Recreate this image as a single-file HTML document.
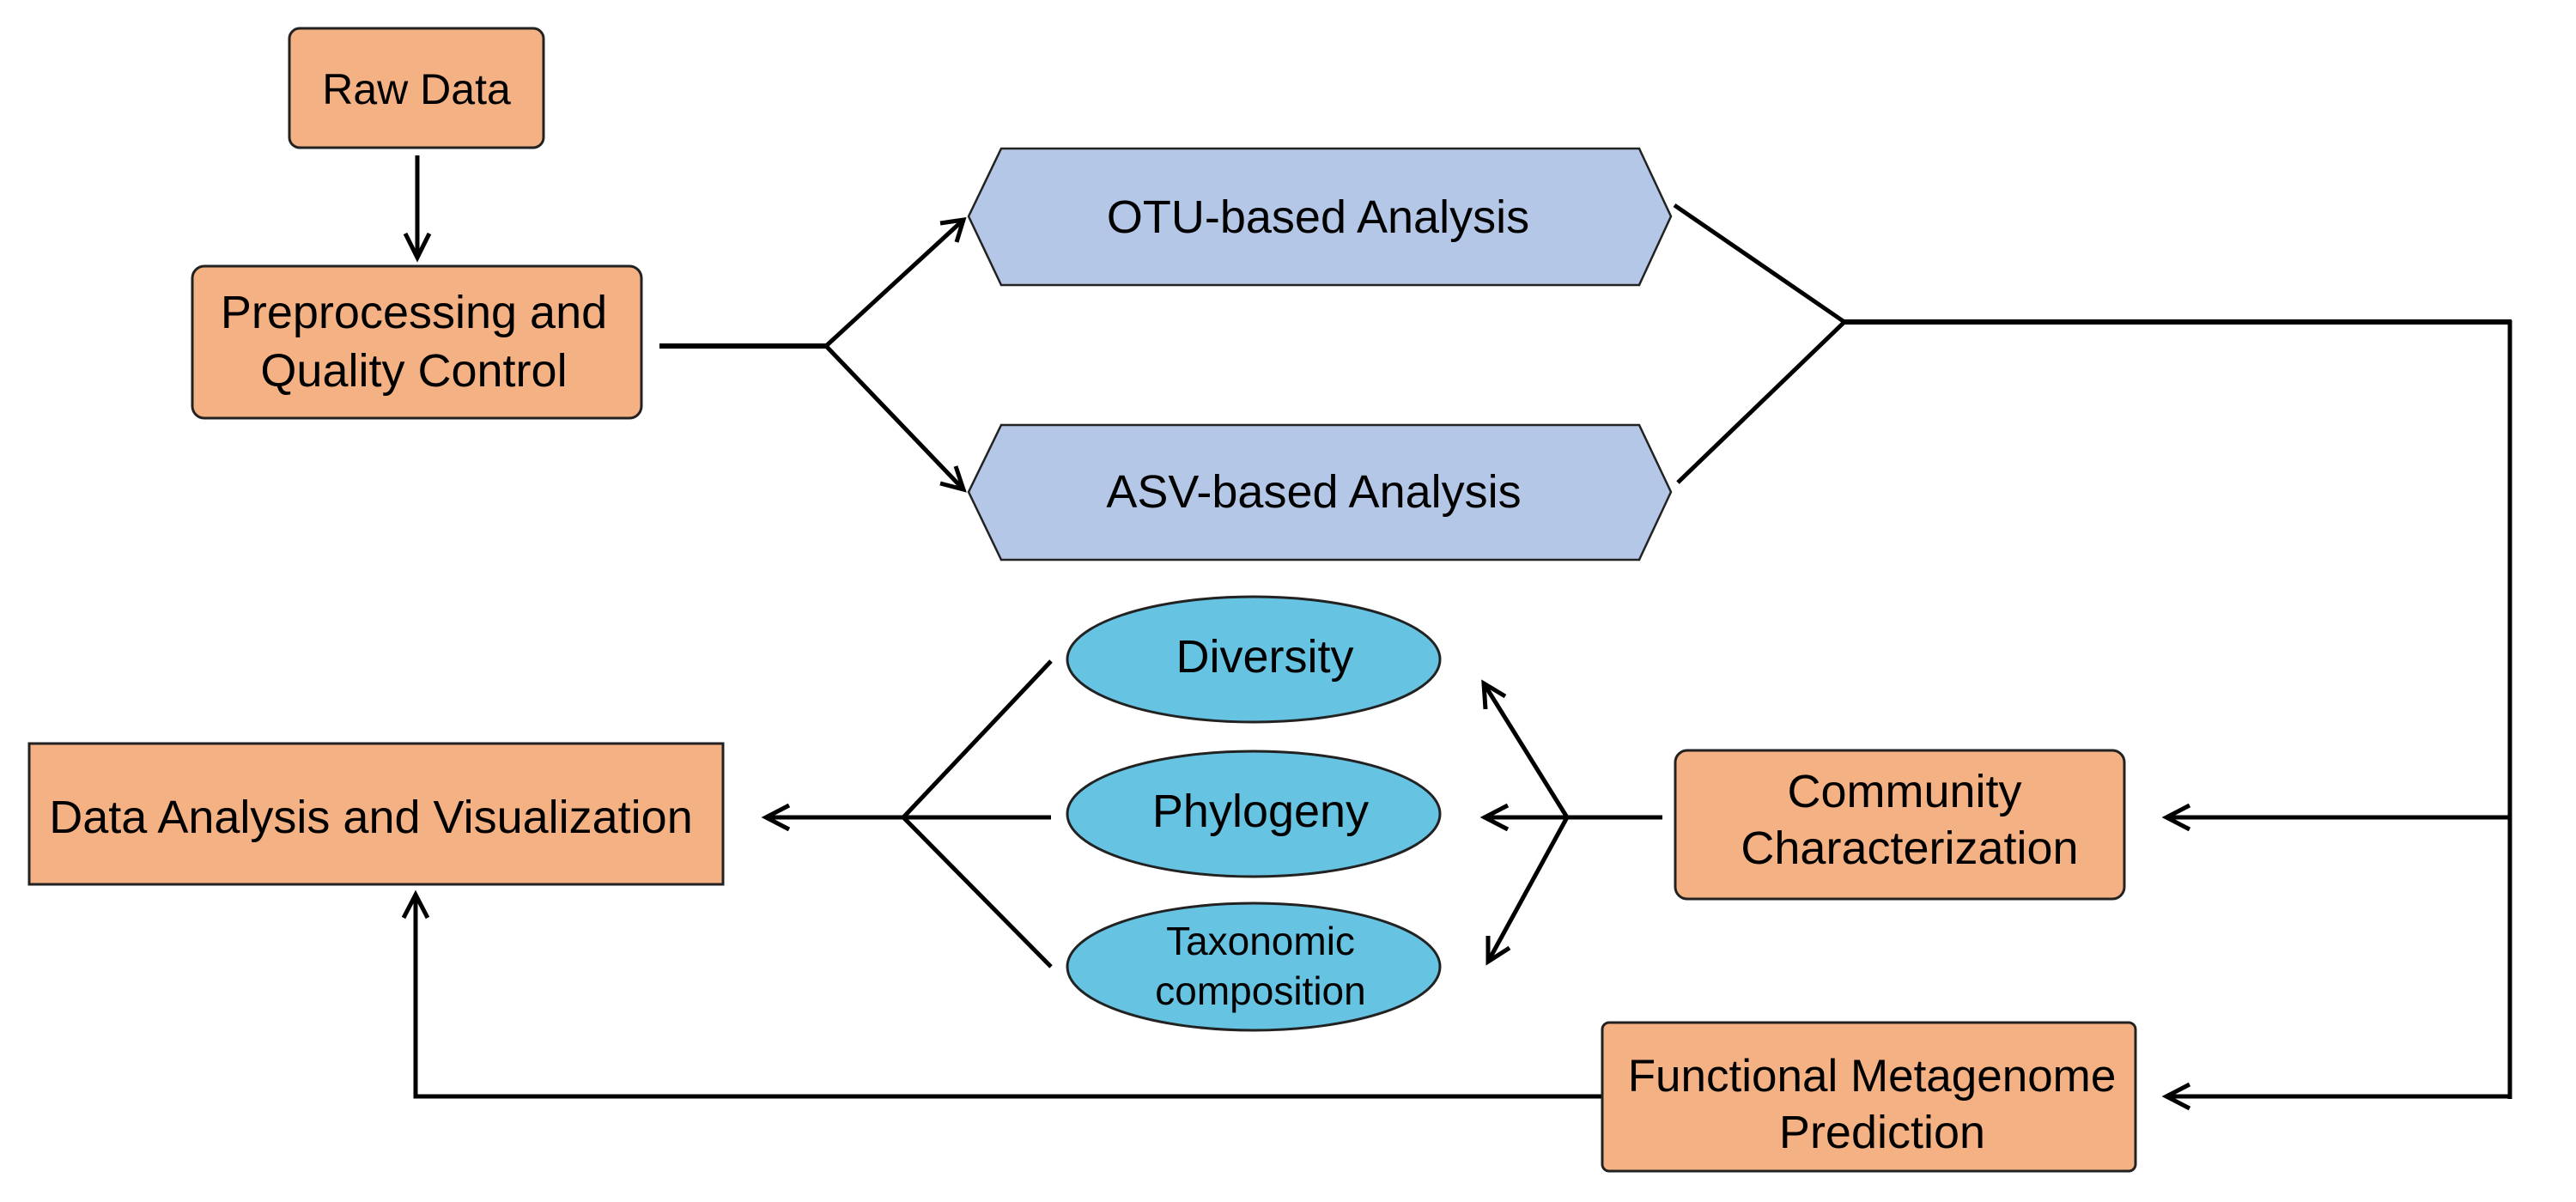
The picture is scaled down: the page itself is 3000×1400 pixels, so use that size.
<!DOCTYPE html>
<html><head><meta charset="utf-8"><style>
html,body{margin:0;padding:0;background:#fff;}
svg{display:block;}
text{font-family:"Liberation Sans",Arial,sans-serif;fill:#000;}
</style></head><body>
<svg width="3000" height="1400" viewBox="0 0 3000 1400" xmlns="http://www.w3.org/2000/svg">
<g stroke="#000" stroke-width="5" fill="none" stroke-linecap="butt" stroke-linejoin="miter">
<line x1="486" y1="181" x2="486" y2="300"/>
<polyline points="472,272 486,300 500,272"/>
<line x1="768" y1="403" x2="962" y2="403" stroke-width="6"/>
<line x1="962" y1="403" x2="1122" y2="256"/>
<line x1="962" y1="403" x2="1122" y2="570"/>
<polyline points="1095,260 1122,256 1114,282"/>
<polyline points="1113,543 1122,570 1095,563"/>
<line x1="1950" y1="239" x2="2148" y2="375"/>
<line x1="1954" y1="562" x2="2148" y2="375"/>
<line x1="2148" y1="375" x2="2925" y2="375" stroke-width="6"/>
<line x1="2923" y1="373" x2="2923" y2="1280"/>
<line x1="2923" y1="952" x2="2523" y2="952"/>
<polyline points="2550,938 2523,952 2550,966"/>
<line x1="2923" y1="1277" x2="2523" y2="1277"/>
<polyline points="2550,1263 2523,1277 2550,1291"/>
<line x1="1936" y1="952" x2="1825" y2="952"/>
<line x1="1825" y1="952" x2="1729" y2="952"/>
<polyline points="1756,938 1729,952 1756,966"/>
<line x1="1825" y1="952" x2="1728" y2="796"/>
<polyline points="1730,826 1728,796 1753,811"/>
<line x1="1825" y1="952" x2="1733" y2="1120"/>
<polyline points="1733,1090 1733,1120 1758,1104"/>
<line x1="1224" y1="770" x2="1052" y2="952"/>
<line x1="1224" y1="952" x2="1052" y2="952"/>
<line x1="1224" y1="1126" x2="1052" y2="952"/>
<line x1="1052" y1="952" x2="892" y2="952"/>
<polyline points="919,938 892,952 919,966"/>
<polyline points="1865,1277 484,1277 484,1042"/>
<polyline points="470,1069 484,1042 498,1069"/>
</g>
<g stroke="#222" stroke-width="3">
<rect x="337" y="33" width="296" height="139" rx="12" fill="#F4B183"/>
<rect x="224" y="310" width="523" height="177" rx="14" fill="#F4B183"/>
<rect x="34" y="866" width="808" height="164" fill="#F4B183"/>
<rect x="1951" y="874" width="523" height="173" rx="14" fill="#F4B183"/>
<rect x="1866" y="1191" width="621" height="173" rx="8" fill="#F4B183"/>
<polygon points="1166,173 1909,173 1946,252 1909,332 1166,332 1128,252" fill="#B4C7E7" stroke-width="2.5"/>
<polygon points="1166,495 1909,495 1946,573 1909,652 1166,652 1128,573" fill="#B4C7E7" stroke-width="2.5"/>
<ellipse cx="1460" cy="768" rx="217" ry="73" fill="#66C4E2"/>
<ellipse cx="1460" cy="948" rx="217" ry="73" fill="#66C4E2"/>
<ellipse cx="1460" cy="1126" rx="217" ry="74" fill="#66C4E2"/>
</g>
<g font-size="54" text-anchor="middle">
<text x="485" y="121" font-size="50">Raw Data</text>
<text x="482" y="382">Preprocessing and</text>
<text x="482" y="450">Quality Control</text>
<text x="1535" y="271">OTU-based Analysis</text>
<text x="1530" y="591">ASV-based Analysis</text>
<text x="1473" y="783">Diversity</text>
<text x="1468" y="963">Phylogeny</text>
<text x="432" y="970">Data Analysis and Visualization</text>
<text x="2218" y="940">Community</text>
<text x="2224" y="1006">Characterization</text>
<text x="2180" y="1271" font-size="53">Functional Metagenome</text>
<text x="2192" y="1337">Prediction</text>
</g>
<g font-size="46" text-anchor="middle">
<text x="1468" y="1112">Taxonomic</text>
<text x="1468" y="1170">composition</text>
</g>
</svg>
</body></html>
